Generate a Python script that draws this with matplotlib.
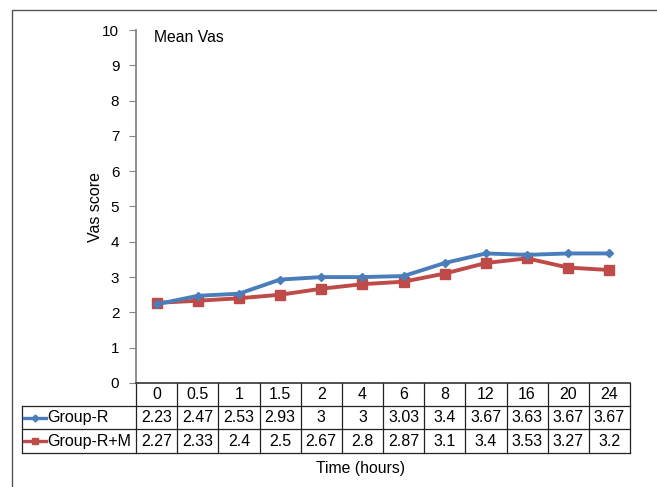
import matplotlib.pyplot as plt
from matplotlib.patches import Rectangle
from matplotlib.transforms import blended_transform_factory

plt.rcParams['font.family'] = ['Liberation Sans', 'DejaVu Sans']

hours = ['0', '0.5', '1', '1.5', '2', '4', '6', '8', '12', '16', '20', '24']
group_r = [2.23, 2.47, 2.53, 2.93, 3, 3, 3.03, 3.4, 3.67, 3.63, 3.67, 3.67]
group_rm = [2.27, 2.33, 2.4, 2.5, 2.67, 2.8, 2.87, 3.1, 3.4, 3.53, 3.27, 3.2]

blue = '#4a7ebb'
red = '#be4b48'
grid_c = '#868686'

W, H = 657, 487
fig = plt.figure(figsize=(W / 100, H / 100), dpi=100)
ax = fig.add_axes([136 / W, 1 - 383 / H, 494 / W, 353 / H])

x = list(range(len(hours)))
ax.plot(x, group_r, color=blue, lw=2.8, marker='D', ms=4.5, label='Group-R', zorder=3)
ax.plot(x, group_rm, color=red, lw=2.8, marker='s', ms=6.5, label='Group-R+M', zorder=2)

ax.set_xlim(-0.5, len(hours) - 0.5)
ax.set_ylim(0, 10)
ax.set_yticks(range(0, 11))
ax.tick_params(axis='y', direction='out', length=5, color=grid_c, labelsize=11, pad=7)
ax.set_xticks([])
for s in ['top', 'right']:
    ax.spines[s].set_visible(False)
ax.spines['left'].set_color(grid_c)
ax.spines['left'].set_linewidth(1.3)
ax.spines['bottom'].set_color('#333333')
ax.spines['bottom'].set_linewidth(1.2)

fig.text(96 / W, 1 - 207 / H, 'Vas score', rotation=90, ha='center', va='center', fontsize=11.5)
ax.text(154 / W, 1 - 38 / H, 'Mean Vas', transform=fig.transFigure, fontsize=11.3, va='center')

# data table under the axis
tr = blended_transform_factory(ax.transData, ax.transAxes)
ppx = 353.0
rows_y = [0, -23 / ppx, -46 / ppx, -70 / ppx]
unit = 494 / 12
left_x = -0.5 - 114 / unit
right_x = len(hours) - 0.5
lc = '#222222'
fs = 11.5
for yy in rows_y[1:]:
    ax.plot([left_x, right_x], [yy, yy], color=lc, lw=0.9, transform=tr, clip_on=False)
ax.plot([left_x, left_x], [rows_y[1], rows_y[3]], color=lc, lw=0.9, transform=tr, clip_on=False)
for i in range(len(hours) + 1):
    xx = i - 0.5
    ax.plot([xx, xx], [rows_y[0], rows_y[3]], color=lc, lw=0.9, transform=tr, clip_on=False)

def mid(a, b):
    return (a + b) / 2

for i, h in enumerate(hours):
    ax.text(i, mid(rows_y[0], rows_y[1]), h, transform=tr, ha='center', va='center', fontsize=fs)
    ax.text(i, mid(rows_y[1], rows_y[2]), f'{group_r[i]:g}', transform=tr, ha='center', va='center', fontsize=fs)
    ax.text(i, mid(rows_y[2], rows_y[3]), f'{group_rm[i]:g}', transform=tr, ha='center', va='center', fontsize=fs)

for r, (name, col, mk, ms) in enumerate([('Group-R', blue, 'D', 3.5), ('Group-R+M', red, 's', 5)]):
    yy = mid(rows_y[r + 1], rows_y[r + 2])
    ax.plot([left_x + 2 / unit, left_x + 24 / unit], [yy, yy], color=col, lw=2.4, transform=tr, clip_on=False)
    ax.plot([left_x + 13 / unit], [yy], color=col, marker=mk, ms=ms, transform=tr, clip_on=False)
    ax.text(left_x + 25 / unit, yy, name, transform=tr, ha='left', va='center', fontsize=fs)

fig.text(361 / W, 1 - 468 / H, 'Time (hours)', ha='center', va='center', fontsize=11.3)

# chart frame
fig.add_artist(Rectangle((12 / W, -0.1), 1.2, 1.1 - 10 / H, transform=fig.transFigure,
                         fill=False, edgecolor='#555555', lw=1.0))

fig.savefig('out.png', dpi=100)
